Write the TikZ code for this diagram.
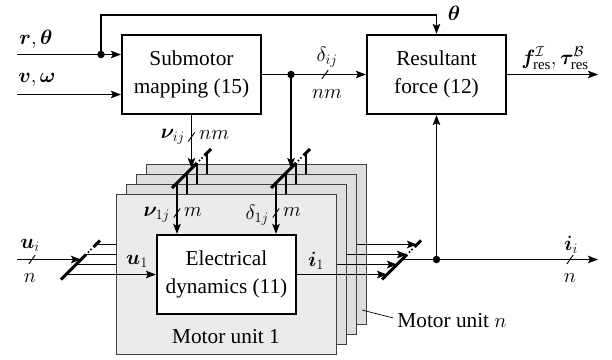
\documentclass[tikz,border=0pt]{standalone}
\usepackage{amsmath}
\usepackage{bm}
\usepackage{fontspec}
\setmainfont{Liberation Serif}
\usetikzlibrary{arrows.meta,calc}
\newcommand\barmux[1]{%
  \draw[barline] ($(#1)+(-5,5)$) -- ($(#1)+(20,-20)$);
  \fill ($(#1)+(22.5,-22.5)$) circle (1.2);
  \fill ($(#1)+(25,-25)$) circle (1.2);
  \draw[barline] ($(#1)+(27.5,-27.5)$) -- ($(#1)+(34,-34)$);
}
\newcommand\tickat[1]{\draw[tickmk] (#1) ++(-3.2,4.5) -- ++(6.4,-9);}
\begin{document}
\begin{tikzpicture}[x=1pt,y=-1pt,
  font=\rmfamily\fontsize{21.3}{27.5}\selectfont,
  arr/.style={-{Stealth[length=10pt,width=7.5pt,inset=2pt]},line width=1.3pt},
  blk/.style={draw,line width=2.2pt,fill=white,minimum width=139pt,minimum height=79pt,align=center,inner sep=0pt},
  panelbox/.style={draw=black!75,line width=0.8pt,minimum width=220pt,minimum height=160pt,inner sep=0pt},
  barline/.style={line width=3pt},
  tickmk/.style={line width=0.9pt},
  dotmk/.style={circle,fill,inner sep=0pt,minimum size=7.5pt},
  lbl/.style={inner sep=1pt}]
\useasboundingbox (0,0) rectangle (612,359);

% main blocks
\node[blk] (sub) at (191.5,74.5) {Submotor\\mapping (15)};
\node[blk] (res) at (436.5,74.5) {Resultant\\force (12)};

% inputs
\coordinate (rin) at (17,54.5);
\coordinate (vin) at (17,94.5);
\coordinate (dR) at (101,54.5);
\draw[arr] (rin) -- (rin -| sub.west);
\draw[arr] (vin) -- (vin -| sub.west);
\node[dotmk] (dotR) at (dR) {};
\coordinate (fb) at (300,15);
\draw[arr] (dR) |- (fb) -| (res.north);
\node[lbl] (lr) at (36,39) {$\bm{r},\bm{\theta}$};
\node[lbl] (lv) at (37,80) {$\bm{v},\bm{\omega}$};
\node[lbl] (lth) at (454,13) {$\bm{\theta}$};

% sub -> res
\coordinate (dD) at (291,74.5);
\draw[arr] (sub.east) -- (res.west);
\node[dotmk] (dotD) at (dD) {};
\tickat{325,74.5}
\node[lbl] (ldij) at (327,57) {$\delta_{ij}$};
\node[lbl] (lnm1) at (327,94) {$nm$};

% res output
\coordinate (fout) at (598,74.5);
\draw[arr] (res.east) -- (fout);
\node[lbl] (lf) at (555,58) {$\bm{f}^{\mathcal{I}}_{\mathrm{res}},\bm{\tau}^{\mathcal{B}}_{\mathrm{res}}$};

% motor units (back to front)
\foreach \k in {4,3,2,1}{
  \begin{scope}[shift={({10*(\k-1)},{-10*(\k-1)})}]
    \ifnum\k=1
      \node[panelbox,fill=black!8] (pan\k) at (226,274) {};
      \node[blk] (ed\k) at (226.5,274.5) {Electrical\\dynamics (11)};
    \else
      \node[panelbox,fill=black!13] (pan\k) at (226,274) {};
      \node[blk] (ed\k) at (226.5,274.5) {};
    \fi
    \coordinate (nu\k) at (177,183);
    \coordinate (de\k) at (276,183);
    \coordinate (ui\k) at (66,274.5);
    \coordinate (io\k) at (387,274.5);
    \draw[arr] (nu\k) -- (nu\k |- ed\k.north);
    \draw[arr] (de\k) -- (de\k |- ed\k.north);
    \draw[arr] (ui\k) -- (ed\k.west |- ui\k);
    \draw[arr] (ed\k.east |- io\k) -- (io\k);
  \end{scope}
}

% mux / demux bars
\barmux{nu1}
\barmux{de1}
\barmux{ui1}
\barmux{io1}

% connections to bars
\coordinate (nub) at ($(nu1)+(15,-15)$);
\coordinate (deb) at ($(de1)+(15,-15)$);
\coordinate (uib) at ($(ui1)+(15,-15)$);
\coordinate (iob) at ($(io1)+(15,-15)$);
\draw[arr] (sub.south) -- (sub.south |- nub);
\draw[arr] (dD) -- (dD |- deb);
\tickat{191.5,137}
\node[lbl,anchor=east] (lnuij) at (186,137) {$\bm{\nu}_{ij}$};
\node[lbl,anchor=west] (lnm2) at (198,135) {$nm$};

\coordinate (uin) at (17,259.5);
\draw[arr] (uin) -- (uib);
\tickat{32,259.5}
\node[lbl] (lui) at (30,245) {$\bm{u}_i$};
\node[lbl] (ln1) at (30,278) {$n$};

\coordinate (iout) at (598,259.5);
\coordinate (dI) at (res.south |- iob);
\draw[arr] (iob) -- (iout);
\draw[arr] (dI) -- (res.south);
\node[dotmk] (dotI) at (dI) {};
\tickat{570,259.5}
\node[lbl] (lii) at (571,245) {$\bm{i}_i$};
\node[lbl] (ln2) at (570,278) {$n$};

% unit 1 labels
\tickat{177,213}
\tickat{276,213}
\node[lbl,anchor=east] (lnu1) at (171,215) {$\bm{\nu}_{1j}$};
\node[lbl,anchor=west] (lm1) at (183,212) {$m$};
\node[lbl,anchor=east] (lde1) at (270,215) {$\delta_{1j}$};
\node[lbl,anchor=west] (lm2) at (282,212) {$m$};
\node[lbl] (lu1) at (137,261) {$\bm{u}_1$};
\node[lbl] (li1) at (316,261) {$\bm{i}_1$};
\node[lbl] (lmu1) at (226,337) {Motor unit 1};

% Motor unit n label
\node[lbl] (lmun) at (452,321) {Motor unit $n$};
\coordinate (ldr) at (362,310);
\draw[line width=0.7pt] (ldr) -- ($(lmun.west)+(-3,-3)$);
\end{tikzpicture}
\end{document}
